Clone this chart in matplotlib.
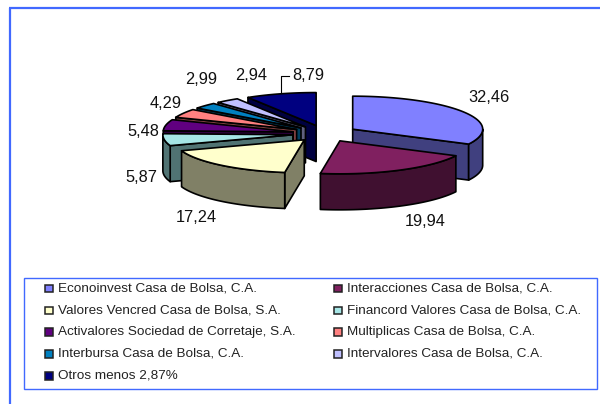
import matplotlib
matplotlib.use("Agg")
import matplotlib.pyplot as plt
from matplotlib.patches import Polygon, Rectangle
import numpy as np

names = ["Econoinvest Casa de Bolsa, C.A.", "Interacciones Casa de Bolsa, C.A.",
	"Valores Vencred Casa de Bolsa, S.A.", "Financord Valores Casa de Bolsa, C.A.",
	"Activalores Sociedad de Corretaje, S.A.", "Multiplicas Casa de Bolsa, C.A.",
	"Interbursa Casa de Bolsa, C.A.", "Intervalores Casa de Bolsa, C.A.",
	"Otros menos 2,87%"]
values = [32.46, 19.94, 17.24, 5.87, 5.48, 4.29, 2.99, 2.94, 8.79]
value_labels = ["32,46", "19,94", "17,24", "5,87", "5,48", "4,29", "2,99", "2,94", "8,79"]

top_colors = ["#8080FF", "#802060", "#FFFFCC", "#A6E6E6", "#600080", "#FF8080", "#0080C0", "#C0C0FF", "#000080"]
side_colors = ["#40407F", "#401030", "#808066", "#507373", "#300040", "#804040", "#004060", "#606080", "#000040"]

# label spots in pixels (x, y, ha)
label_pos = [(489, 98, "center"), (425, 222, "center"), (196, 218, "center"), (157, 178, "right"),
	(159, 132, "right"), (182, 103, "right"), (217, 80, "right"), (267, 76, "right"), (292, 75, "left")]

CX, CY = 325, 133.5
RX, RY = 130, 33
DEPTH = 36
EXPLODE = 0.25
BLUE = "#4169FF"


def arc(ax0, ay0, a, b):
	t = np.radians(np.linspace(a, b, max(int(abs(b - a)) * 2, 2)))
	return np.column_stack([ax0 + RX * np.sin(t), ay0 - RY * np.cos(t)])


def draw_wedge(ax, a, b, top, side):
	mid = np.radians((a + b) / 2)
	ax0 = CX + EXPLODE * RX * np.sin(mid)
	ay0 = CY - EXPLODE * RY * np.cos(mid)
	style = dict(edgecolor="black", linewidth=1.2, joinstyle="round")
	down = np.array([0, DEPTH])
	# radial faces that look at the viewer
	if np.sin(np.radians(a)) < -1e-6:
		p = arc(ax0, ay0, a, a)[0]
		q = np.array([ax0, ay0])
		ax.add_patch(Polygon([q, p, p + down, q + down], facecolor=side, **style))
	if np.sin(np.radians(b)) > 1e-6:
		p = arc(ax0, ay0, b, b)[0]
		q = np.array([ax0, ay0])
		ax.add_patch(Polygon([q, p, p + down, q + down], facecolor=side, **style))
	# outer rim, front half only
	lo, hi = max(a, 90), min(b, 270)
	if lo < hi:
		r = arc(ax0, ay0, lo, hi)
		ax.add_patch(Polygon(np.vstack([r, (r + down)[::-1]]), facecolor=side, **style))
	ax.add_patch(Polygon(np.vstack([[ax0, ay0], arc(ax0, ay0, a, b)]), facecolor=top, **style))


def plot():
	fig = plt.figure(figsize=(6.0, 4.04), dpi=100)
	ax = fig.add_axes([0, 0, 1, 1])
	ax.set_xlim(0, 600)
	ax.set_ylim(404, 0)
	ax.axis("off")
	plt.rcParams["font.family"] = ["Liberation Sans", "DejaVu Sans"]

	# outer frame
	ax.plot([9.7, 9.7], [404, 8], color=BLUE, lw=1.6, solid_capstyle="butt")
	ax.plot([9, 600], [8, 8], color=BLUE, lw=1.6, solid_capstyle="butt")

	edges = np.concatenate([[0], np.cumsum(values)]) / sum(values) * 360
	# back to front: the left side from the top going down, then the right side
	for i in [8, 7, 6, 5, 4, 3, 2, 0, 1]:
		draw_wedge(ax, edges[i], edges[i + 1], top_colors[i], side_colors[i])

	for txt, (x, y, ha) in zip(value_labels, label_pos):
		ax.text(x, y, txt, fontsize=11.8, ha=ha, va="center", color="#111111")
	ax.plot([289, 281, 281], [76, 76, 93], color="black", lw=0.8)

	# legend box
	ax.add_patch(Rectangle((24, 278), 573, 111, facecolor="white", edgecolor=BLUE, lw=1.0))
	for i, name in enumerate(names):
		row = i // 2
		lx = 45 if i % 2 == 0 else 334
		ly = 288.3 + row * 21.8
		ax.add_patch(Rectangle((lx, ly - 3.5), 8, 7.5, facecolor=top_colors[i], edgecolor="#222222", lw=1.1))
		ax.text(lx + 13, ly, name, fontsize=9.7, ha="left", va="center", color="#222222")

	fig.savefig("out.png", dpi=100)


def main():
	plot()


if __name__ == "__main__":
	main()
